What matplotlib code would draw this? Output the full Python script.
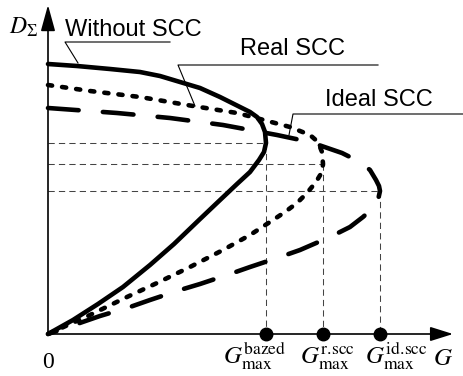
import numpy as np
import matplotlib.pyplot as plt

plt.rcParams['mathtext.fontset'] = 'stix'
plt.rcParams['font.family'] = ['Liberation Sans', 'DejaVu Sans']

# curves: G to the right, D_sigma upward
# (arbitrary units, origin at the axes crossing)
G_without = [0, 29, 62, 92, 112, 132, 152, 172, 192, 202, 209, 214, 217, 218,
             216, 211, 202, 189, 171, 151, 126, 102, 75, 50, 25, 0]
D_without = [270, 268, 265, 262, 258, 252, 246, 237, 227, 222, 217, 210, 202, 191,
             182, 174, 162, 150, 133, 114, 90, 69, 47, 30, 14, 0]

G_real = [0, 42, 92, 145, 189, 212, 242, 262, 270, 274, 275,
          274, 268, 259, 249, 237, 225, 202, 175, 142, 109, 79, 42, 0]
D_real = [249, 243, 237, 228, 221, 215, 207, 199, 192, 182, 170,
          162, 152, 141, 131, 122, 114, 99, 84, 67, 51, 37, 19, 0]

G_ideal = [0, 69, 122, 175, 229, 262, 294, 312, 322, 328, 331, 332,
           330, 327, 315, 302, 282, 252, 232, 202, 182, 152, 132, 102, 82, 52, 0]
D_ideal = [226, 221, 216, 209, 199, 192, 181, 172, 164, 154, 148, 143,
           134, 128, 117, 107, 97, 84, 77, 67, 60, 50, 44, 34, 27, 18, 0]

curves = [(G_without, D_without, '-'),
          (G_real, D_real, (0, (0.9, 2.2))),
          (G_ideal, D_ideal, (0, (6.7, 5.3)))]

max_labels = [r'$G_{\mathrm{max}}^{\mathrm{bazed}}$',
              r'$G_{\mathrm{max}}^{\mathrm{r.\!scc}}$',
              r'$G_{\mathrm{max}}^{\mathrm{id.\!scc}}$']
max_label_x = [175, 252, 317]

fig = plt.figure(figsize=(4.63, 3.76), dpi=100)
ax = fig.add_axes([0, 0, 1, 1])
ax.set_xlim(-48, 415)
ax.set_ylim(-42, 334)
ax.axis('off')

# axes with arrows
ax.annotate('', xy=(0, 329), xytext=(0, 0),
            arrowprops=dict(arrowstyle='-|>,head_length=0.8,head_width=0.22',
                            lw=1.2, color='k', mutation_scale=20, shrinkA=0, shrinkB=0))
ax.annotate('', xy=(405, 0), xytext=(0, 0),
            arrowprops=dict(arrowstyle='-|>,head_length=0.7,head_width=0.22',
                            lw=1.2, color='k', mutation_scale=20, shrinkA=0, shrinkB=0))

gmax = []
for G, D, ls in curves:
    G = np.array(G)
    D = np.array(D)
    ax.plot(G, D, color='k', lw=3.3, ls=ls, solid_capstyle='round',
            dash_capstyle='round', solid_joinstyle='round', zorder=3)
    i = np.argmax(G)
    gmax.append(G[i])
    ax.plot([0, G[i]], [D[i], D[i]], color='#444444', lw=0.75, ls=(0, (6, 4)), zorder=1)
    ax.plot([G[i], G[i]], [D[i], 0], color='#444444', lw=0.75, ls=(0, (6, 4)), zorder=1)

ax.plot(gmax, np.zeros(len(gmax)), 'o', color='k', ms=9, zorder=5, clip_on=False)

for x, lab in zip(max_label_x, max_labels):
    ax.text(x, -29, lab, fontsize=18, ha='left', va='baseline')

ax.text(0, -34, '0', fontsize=17, ha='center', va='baseline', family='Liberation Serif')
ax.text(385, -31, r'$G$', fontsize=18, ha='left', va='baseline')
ax.text(-39, 300, r'$D_\Sigma$', fontsize=17, ha='left', va='baseline')

# curve names with leader lines
ax.text(17, 298, 'Without SCC', fontsize=17, ha='left', va='baseline')
ax.plot([122, 17, 30], [292, 292, 271], color='k', lw=0.8)
ax.text(192, 279, 'Real SCC', fontsize=17, ha='left', va='baseline')
ax.plot([330, 130, 147], [269, 269, 228], color='k', lw=0.8)
ax.text(277, 228, 'Ideal SCC', fontsize=17, ha='left', va='baseline')
ax.plot([415, 245, 241], [220, 220, 199], color='k', lw=0.8)

fig.savefig('out.png', dpi=100)
